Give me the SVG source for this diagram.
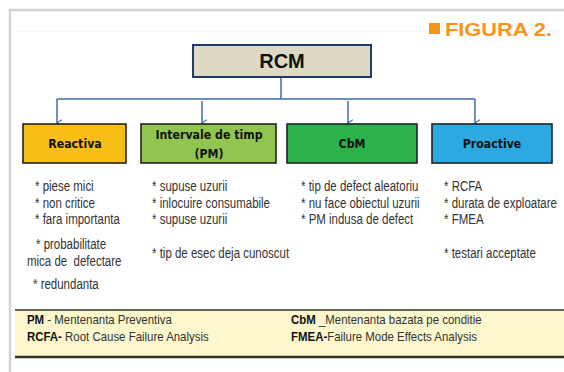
<svg xmlns="http://www.w3.org/2000/svg" width="564" height="372" viewBox="0 0 564 372">
<style>
.frame{fill:none;stroke:#d3d3d3;stroke-width:2.5}
.box{stroke:#222;stroke-width:1.6}
.bt{font-family:"DejaVu Sans",Verdana,sans-serif;font-weight:bold;font-size:12.5px;fill:#111;text-anchor:middle}
.tx{font-family:"Liberation Sans",Arial,sans-serif;font-size:14px;fill:#333}
.lg{font-family:"Liberation Sans",Arial,sans-serif;font-size:13px;fill:#333}
.b{font-weight:bold;fill:#111}
.con{fill:none;stroke:#3d6cb0;stroke-width:1.5}
</style>
<defs>
<marker id="ah" viewBox="0 0 10 10" refX="5" refY="9" markerWidth="8" markerHeight="8" orient="auto-start-reverse" markerUnits="userSpaceOnUse">
<path d="M1,3 L5,9 L9,3" fill="none" stroke="#3d6cb0" stroke-width="1.3"/>
</marker>
</defs>
<rect width="564" height="372" fill="#fff"/>
<path class="frame" d="M10,372 V10 H564"/>
<line x1="16" y1="31" x2="560" y2="31" stroke="#f0f0f0" stroke-width="1"/>
<g id="title">
<rect x="429" y="23" width="11" height="11" fill="#f7941d"/>
<text x="445" y="35.5" font-family="Liberation Sans,Arial,sans-serif" font-weight="bold" font-size="18" fill="#f7941d" textLength="107" lengthAdjust="spacingAndGlyphs">FIGURA 2.</text>
</g>
<g id="connectors">
<path class="con" d="M281,77 V99 M57,99 H475"/>
<path class="con" d="M57,99 V123" marker-end="url(#ah)"/>
<path class="con" d="M202,101 V123" marker-end="url(#ah)"/>
<path class="con" d="M348,101 V123" marker-end="url(#ah)"/>
<path class="con" d="M475,99 V123" marker-end="url(#ah)"/>
</g>
<g id="rcm">
<rect x="193" y="45" width="178" height="32" fill="#ddd9c4" stroke="#1f3b6e" stroke-width="2"/>
<text x="282" y="68" font-family="Liberation Sans,Arial,sans-serif" font-weight="bold" font-size="20" fill="#111" text-anchor="middle">RCM</text>
</g>
<g id="reactiva">
<rect class="box" x="23" y="124" width="103" height="39" fill="#f7be16"/>
<text class="bt" transform="translate(75,148) scale(0.88,1)">Reactiva</text>
</g>
<g id="intervale">
<rect class="box" x="141" y="124" width="135" height="39" fill="#92c54f"/>
<text class="bt" transform="translate(209,139) scale(0.88,1)">Intervale de timp</text>
<text class="bt" transform="translate(209,158) scale(0.88,1)">(PM)</text>
</g>
<g id="cbm">
<rect class="box" x="287" y="124" width="130" height="39" fill="#2bb24b"/>
<text class="bt" transform="translate(352,148) scale(0.88,1)">CbM</text>
</g>
<g id="proactive">
<rect class="box" x="432" y="124" width="120" height="39" fill="#2ba9e0"/>
<text class="bt" transform="translate(492,148) scale(0.88,1)">Proactive</text>
</g>
<g id="reactiva-list" class="tx">
<text transform="translate(35,191) scale(0.82,1)">* piese mici</text>
<text transform="translate(35,208) scale(0.82,1)">* non critice</text>
<text transform="translate(35,224) scale(0.82,1)">* fara importanta</text>
<text transform="translate(36,249) scale(0.82,1)">* probabilitate</text>
<text transform="translate(27,266) scale(0.82,1)">mica de&#160; defectare</text>
<text transform="translate(33,289) scale(0.82,1)">* redundanta</text>
</g>
<g id="intervale-list" class="tx">
<text transform="translate(152,191) scale(0.82,1)">* supuse uzurii</text>
<text transform="translate(152,208) scale(0.82,1)">* inlocuire consumabile</text>
<text transform="translate(152,224) scale(0.82,1)">* supuse uzurii</text>
<text transform="translate(152,258) scale(0.82,1)">* tip de esec deja cunoscut</text>
</g>
<g id="cbm-list" class="tx">
<text transform="translate(301,191) scale(0.82,1)">* tip de defect aleatoriu</text>
<text transform="translate(301,208) scale(0.82,1)">* nu face obiectul uzurii</text>
<text transform="translate(301,224) scale(0.82,1)">* PM indusa de defect</text>
</g>
<g id="proactive-list" class="tx">
<text transform="translate(444,191) scale(0.82,1)">* RCFA</text>
<text transform="translate(444,208) scale(0.82,1)">* durata de exploatare</text>
<text transform="translate(444,224) scale(0.82,1)">* FMEA</text>
<text transform="translate(444,258) scale(0.82,1)">* testari acceptate</text>
</g>
<g id="legend">
<rect x="15" y="310" width="549" height="47" fill="#fcf7cd"/>
<line x1="15" y1="310" x2="564" y2="310" stroke="#333" stroke-width="1.6"/>
<line x1="15" y1="357" x2="564" y2="357" stroke="#333" stroke-width="2.5"/>
<text class="lg" transform="translate(27,324) scale(0.88,1)"><tspan class="b">PM</tspan> - Mentenanta Preventiva</text>
<text class="lg" transform="translate(27,341) scale(0.88,1)"><tspan class="b">RCFA-</tspan> Root Cause Failure Analysis</text>
<text class="lg" transform="translate(291,324) scale(0.88,1)"><tspan class="b">CbM</tspan> _Mentenanta bazata pe conditie</text>
<text class="lg" transform="translate(291,341) scale(0.88,1)"><tspan class="b">FMEA-</tspan>Failure Mode Effects Analysis</text>
</g>
</svg>
